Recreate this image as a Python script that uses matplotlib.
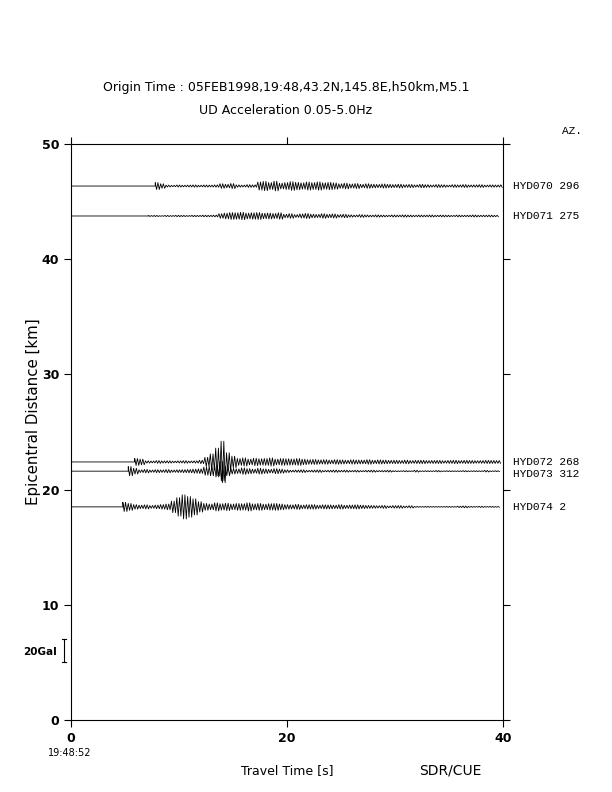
import matplotlib.pyplot as plt
import numpy as np

# station records: name, azimuth, epicentral distance [km], onset time [s]
stations = ['HYD070', 'HYD071', 'HYD072', 'HYD073', 'HYD074']
azimuths = [296, 275, 268, 312, 2]
distances = [46.35, 43.75, 22.4, 21.6, 18.5]
onsets = [7.8, 7.2, 5.9, 5.3, 4.8]

# peak amplitude [Gal] every 0.5 s after onset
amp070 = [3.0, 2.0,
          0.8, 0.6, 0.9, 0.7, 0.8, 1.0, 0.7, 0.9, 0.8, 1.0,
          2.0, 1.5, 2.2,
          1.0, 0.8, 1.2, 1.0,
          3.5, 4.0, 3.0, 4.2, 2.5, 3.0, 3.8, 3.2, 2.8, 3.5, 3.0, 3.6, 2.8, 3.2,
          2.8, 2.0, 2.5, 1.8, 2.2, 1.5, 2.0, 1.6, 1.4, 1.8, 1.5, 1.3, 1.6,
          1.2, 1.4, 1.0, 1.5, 1.2, 0.9, 1.3, 1.1, 0.8, 1.2,
          1.0, 1.3, 0.9, 1.0, 1.2, 0.8, 1.0, 0.9, 1.1, 0.8]
amp071 = [0.4, 0.5, 0.3, 0.5, 0.4, 0.6, 0.5, 0.4, 0.6, 0.5, 0.7, 0.6, 0.8,
          2.0, 2.5, 3.0, 2.8, 3.2, 2.5, 2.8, 3.0, 2.4, 2.6, 2.2, 2.8,
          1.5, 2.0, 1.2, 1.8, 2.2, 1.6, 1.4, 2.0, 1.5, 1.8, 1.2, 1.5,
          1.0, 0.8, 1.2, 0.9, 0.7, 1.0, 0.8, 0.6, 0.9, 0.7, 1.0, 0.8, 0.6, 0.8,
          0.7, 0.9, 0.6, 0.8, 0.7, 0.5, 0.8, 0.6, 0.7, 0.9, 0.6, 0.7, 0.8, 0.6]
amp072 = [3.0, 2.5,
          1.0, 0.8, 1.2, 0.9, 1.0, 0.7, 0.9, 1.1, 0.8, 1.0, 1.5,
          4.0, 7.0, 12.0, 18.0, 8.0, 5.0,
          3.0, 3.5, 2.5, 3.2, 2.8, 3.0, 3.5, 2.5, 3.0, 2.8, 2.6, 3.0, 2.4,
          2.0, 2.2, 1.8, 2.0, 1.6, 2.0, 1.8, 1.5, 1.9, 1.7, 1.6, 2.0, 1.5, 1.8, 1.6, 1.4,
          1.5, 1.3, 1.6, 1.2, 1.4, 1.5, 1.2, 1.3, 1.4, 1.1,
          1.3, 1.5, 1.2, 1.4, 1.3, 1.1, 1.2, 1.4, 1.3, 1.2]
amp073 = [4.0, 2.5,
          1.2, 1.5, 1.0, 1.3, 1.1, 1.4, 1.0, 1.2, 1.3, 1.5, 1.8, 2.0,
          3.5, 4.0, 5.0, 8.5, 4.0,
          2.5, 2.0, 2.8, 2.2, 1.8, 2.5, 2.0, 1.6, 2.2, 1.8,
          1.2, 0.8, 1.0, 1.2, 0.7, 0.9, 1.1, 0.6, 0.8, 1.0,
          0.7, 0.9, 0.6, 0.8, 0.5, 0.7, 0.9, 0.5, 0.6, 0.8,
          0.4, 0.3, 0.5, 0.3, 0.8, 0.3, 0.4, 0.3, 0.6, 0.3,
          0.4, 0.3, 0.3, 0.5, 0.3, 0.4, 0.3, 0.7, 0.3, 0.4]
amp074 = [4.0, 3.0,
          2.0, 1.5, 1.8, 1.2, 1.6, 2.0, 2.5,
          5.0, 8.0, 10.5, 9.0, 7.0, 4.5,
          3.0, 2.5, 3.5, 2.8, 3.2, 2.5, 3.0, 2.8, 3.5, 2.6, 3.0, 2.4, 2.8, 3.0, 2.5,
          2.0, 1.8, 2.2, 1.6, 1.9, 2.0, 1.5, 1.8, 1.7, 1.5, 1.9, 1.4, 1.6, 1.8, 1.5, 1.3,
          1.2, 1.0, 1.3, 0.8, 1.1, 1.2, 0.7, 1.0, 0.4, 0.3, 0.4, 0.3,
          0.3, 0.3, 0.4, 0.3, 0.6, 0.8, 0.4, 0.3, 0.5, 0.3, 0.4, 0.3]
amplitudes = [amp070, amp071, amp072, amp073, amp074]

gal_to_km = 0.1   # 20 Gal bar = 2 km on the distance axis
step = 0.5

fig = plt.figure(figsize=(6.12, 7.92), dpi=100)
ax = fig.add_axes([0.116, 0.0909, 0.7059, 0.7273])

for name, az, dist, t0, amp in zip(stations, azimuths, distances, onsets, amplitudes):
    amp = np.array(amp) * gal_to_km
    t = t0 + step * np.arange(len(amp))
    # each sample drawn as two up/down swings of its peak amplitude
    q = step / 4
    tz = np.column_stack([t, t + q, t + 2 * q, t + 3 * q]).ravel()
    yz = np.column_stack([amp, -amp, amp, -amp]).ravel()
    keep = tz <= 40
    tt = np.concatenate([[0, t0], tz[keep]])
    yy = np.concatenate([[0, 0], yz[keep]]) + dist
    ax.plot(tt, yy, color='black', lw=0.6)
    label_y = dist - 0.25 if name == 'HYD073' else dist
    ax.text(40.9, label_y, f'{name} {az}', family='Liberation Mono', fontsize=8,
            va='center', ha='left')

ax.set_xlim(0, 40)
ax.set_ylim(0, 50)
ax.set_xticks([0, 20, 40])
ax.set_yticks([0, 10, 20, 30, 40, 50])
ax.tick_params(direction='out', length=5, width=0.8, labelsize=9,
               top=True, right=True, labeltop=False, labelright=False)
for lab in ax.get_xticklabels() + ax.get_yticklabels():
    lab.set_fontweight('bold')
for sp in ax.spines.values():
    sp.set_linewidth(0.8)

ax.set_xlabel('Travel Time [s]', fontsize=9, labelpad=14)
ax.set_ylabel('Epicentral Distance [km]', fontsize=10.8)
ax.yaxis.set_label_coords(-0.07, 0.536)

fig.text(0.467, 0.889, 'Origin Time : 05FEB1998,19:48,43.2N,145.8E,h50km,M5.1',
         ha='center', va='center', fontsize=9)
fig.text(0.467, 0.861, 'UD Acceleration 0.05-5.0Hz', ha='center', va='center', fontsize=9)
fig.text(0.935, 0.834, 'AZ.', family='Liberation Mono', fontsize=8, ha='center', va='center')
fig.text(0.114, 0.049, '19:48:52', ha='center', va='center', fontsize=7)
fig.text(0.735, 0.027, 'SDR/CUE', ha='center', va='center', fontsize=10)

# amplitude scale bar
bx = -0.65
ax.plot([bx, bx], [5.0, 7.0], color='black', lw=0.8, clip_on=False)
ax.plot([bx - 0.15, bx + 0.15], [5.0, 5.0], color='black', lw=0.8, clip_on=False)
ax.plot([bx - 0.15, bx + 0.15], [7.0, 7.0], color='black', lw=0.8, clip_on=False)
ax.text(-1.3, 5.9, '20Gal', ha='right', va='center', fontsize=7.5, fontweight='bold')

fig.savefig('out.png', dpi=100)
